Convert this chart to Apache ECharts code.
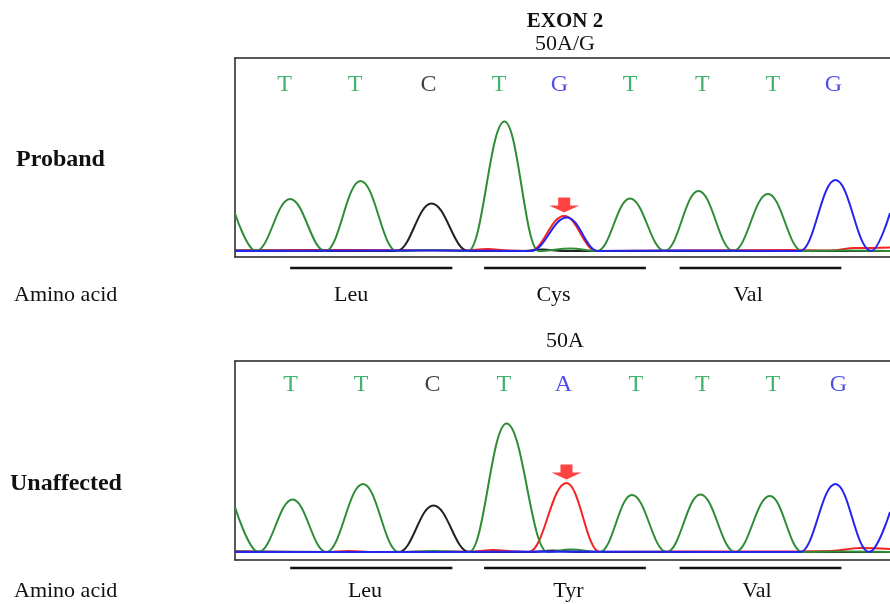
<!DOCTYPE html>
<html><head><meta charset="utf-8">
<script src="https://cdn.jsdelivr.net/npm/echarts@6/dist/echarts.min.js"></script>
<style>html,body{margin:0;padding:0;background:#fff}#c{width:890px;height:604px}</style>
</head><body><div id="c"></div>
<script>
// ---- Data (x = scan position, y = signal intensity) ----
const topCalls = ['T','T','C','T','G','T','T','T','G'];
const topCallPos = [50,121,195,266,327,398,471,542,603];
const botCalls = ['T','T','C','T','A','T','T','T','G'];
const botCallPos = [56,127,199,271,331,404,471,542,608];

const topGreen = [[0,37.5],[21,0],[55.5,52],[91,0],[126.5,70],[163,0],[200,1],[235,0],[271.5,129.5],[306,0],[338,2.5],[365,0],[398,52.5],[433,0],[467,60],[502,0],[537,57],[571.6,0],[610,0.5],[660,0]];
const topBlack = [[0,0.5],[150,0],[163,0],[198,47.5],[235,0],[290,0],[310,1.5],[330,0],[660,0]];
const topBlue  = [[0,0],[200,0.5],[298,0],[334.5,33.5],[366,0],[450,0.5],[569.5,0],[605,71],[641,0],[660,38]];
const topRed   = [[0,0.5],[120,1],[230,0.5],[255,2],[275,0.5],[297,0],[331.7,35],[364.6,0],[450,0.5],[560,1],[600,0.5],[625,3],[660,3.5]];

const botGreen = [[0,45],[23.6,0],[58,52.5],[92,0],[129,68],[165,0],[200,1],[236,0],[273.6,128.5],[315,0],[338,2.5],[367.5,0],[400,57],[435,0],[469,57.5],[504,0],[539,56],[571.6,0],[610,0.5],[660,0]];
const botBlack = [[0,0.5],[150,0],[165,0],[200,46.5],[236,0],[300,0],[320,1.5],[345,0],[660,0]];
const botBlue  = [[0,0],[200,0],[320,0.5],[500,0],[569.5,0],[605,68],[639,0],[660,40]];
const botRed   = [[0,0.5],[90,0],[115,1],[140,0],[240,0.5],[260,2],[285,0.5],[296,0],[334,69],[367.5,0],[450,0.5],[560,0.5],[600,1],[630,4],[660,3]];

const codonStart = [55.6,251,448];
const codonEnd   = [219,414,611];
const aminoTop = ['Leu','Cys','Val'];
const aminoTopX = [117,321,517];
const aminoBot = ['Leu','Tyr','Val'];
const aminoBotX = [131,336,526];

// ---- Styles ----
const FONT = '"Liberation Serif","Times New Roman",serif';
const C_GREEN = '#2f8c36', C_BLUE = '#2424f0', C_RED = '#f52222', C_BLACK = '#222';
const letterColor = {T:'#12a04a', C:'#111', G:'#2222e0', A:'#2222e0'};

function trace(data, color, idx, z) {
  return {type:'line', data, xAxisIndex:idx, yAxisIndex:idx, showSymbol:false, symbol:'none',
    smooth:0.4, smoothMonotone:'x', clip:true, z,
    lineStyle:{color, width:2}, silent:true, animation:false};
}
function calls(pos, letters, level, idx) {
  return {type:'scatter', xAxisIndex:idx, yAxisIndex:idx, symbolSize:0.1, silent:true, animation:false,
    itemStyle:{color:'transparent'}, z:5,
    data: pos.map((x,i)=>({value:[x,level], label:{color:letterColor[letters[i]]}})),
    label:{show:true, position:'inside', fontFamily:FONT, fontSize:24,
      formatter:p=>letters[p.dataIndex]}};
}
function peakOf(data){ return data.reduce((a,b)=>b[1]>a[1]?b:a); }
function arrow(data, idx) {
  const p = peakOf(data);
  return {type:'scatter', xAxisIndex:idx, yAxisIndex:idx, silent:true, animation:false, z:10,
    symbol:'path://M9,0L21,0L21,8L30,8L15,15L0,8L9,8Z', symbolSize:[30,15], symbolOffset:[0,-11],
    itemStyle:{color:'#ff1414'}, data:[[p[0], p[1]]]};
}
function codons(names, labelX, idx, barY, labY) {
  return {type:'custom', xAxisIndex:idx, yAxisIndex:idx, silent:true, animation:false, clip:false,
    data: codonStart.map((s,i)=>[s, codonEnd[i], labelX[i]]),
    renderItem:(params, api)=>{
      const a = api.coord([api.value(0), barY]), b = api.coord([api.value(1), barY]);
      const t = api.coord([api.value(2), labY]);
      return {type:'group', children:[
        {type:'line', shape:{x1:a[0],y1:a[1],x2:b[0],y2:b[1]}, style:{stroke:'#111', lineWidth:2.5}},
        {type:'text', x:t[0], y:t[1], style:{text:names[params.dataIndex], fill:'#111',
          font:'22px ' + FONT, align:'center', verticalAlign:'middle'}}
      ]};
    }};
}

const frame = {show:true, onZero:false, lineStyle:{color:'#222', width:1.5}};
function xAx(grid, pos) {
  return {type:'value', gridIndex:grid, position:pos, min:0, max:660, axisLine:frame,
    axisTick:{show:false}, axisLabel:{show:false}, splitLine:{show:false}};
}
function yAx(grid, min, max) {
  return {type:'value', gridIndex:grid, min, max, axisLine:frame,
    axisTick:{show:false}, axisLabel:{show:false}, splitLine:{show:false}};
}

const chart = echarts.init(document.getElementById('c'), null, {renderer:'canvas'});
chart.setOption({
  animation:false,
  backgroundColor:'#fff',
  grid:[
    {left:235, top:58, right:-20, height:199, show:false},
    {left:235, top:361, right:-20, height:199, show:false}
  ],
  xAxis:[xAx(0,'bottom'), xAx(1,'bottom'), xAx(0,'top'), xAx(1,'top')],
  yAxis:[yAx(0,-6,193), yAx(1,-8,191)],
  graphic:[
    {type:'text', x:565, y:22, style:{text:'EXON 2', font:'bold 21px ' + FONT, fill:'#111', align:'center', verticalAlign:'middle'}},
    {type:'text', x:565, y:44, style:{text:'50A/G', font:'22px ' + FONT, fill:'#111', align:'center', verticalAlign:'middle'}},
    {type:'text', x:565, y:341, style:{text:'50A', font:'22px ' + FONT, fill:'#111', align:'center', verticalAlign:'middle'}},
    {type:'text', x:16, y:160, style:{text:'Proband', font:'bold 24px ' + FONT, fill:'#111', align:'left', verticalAlign:'middle'}},
    {type:'text', x:10, y:484, style:{text:'Unaffected', font:'bold 24px ' + FONT, fill:'#111', align:'left', verticalAlign:'middle'}},
    {type:'text', x:14, y:295, style:{text:'Amino acid', font:'22px ' + FONT, fill:'#111', align:'left', verticalAlign:'middle'}},
    {type:'text', x:14, y:591, style:{text:'Amino acid', font:'22px ' + FONT, fill:'#111', align:'left', verticalAlign:'middle'}}
  ],
  series:[
    trace(topRed, C_RED, 0, 1), trace(topBlack, C_BLACK, 0, 2), trace(topGreen, C_GREEN, 0, 3), trace(topBlue, C_BLUE, 0, 4),
    trace(botRed, C_RED, 1, 1), trace(botBlack, C_BLACK, 1, 2), trace(botGreen, C_GREEN, 1, 3), trace(botBlue, C_BLUE, 1, 4),
    calls(topCallPos, topCalls, 166, 0), calls(botCallPos, botCalls, 167, 1),
    arrow(topRed, 0), arrow(botRed, 1),
    codons(aminoTop, aminoTopX, 0, -17, -44),
    codons(aminoBot, aminoBotX, 1, -16, -39)
  ]
});
</script></body></html>
